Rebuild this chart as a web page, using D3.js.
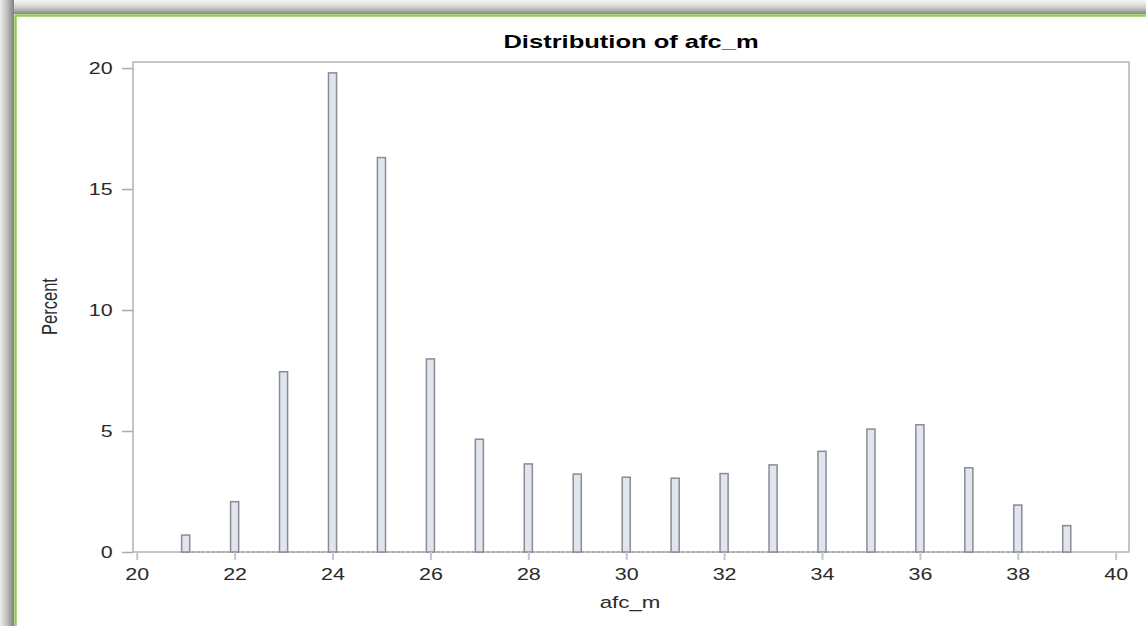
<!DOCTYPE html>
<html>
<head>
<meta charset="utf-8">
<script src="https://cdn.jsdelivr.net/npm/d3@7"></script>
<style>
  html, body { margin: 0; padding: 0; background: #ffffff; }
  svg { display: block; }
  text { font-family: "Liberation Sans", Arial, sans-serif; }
</style>
</head>
<body>
<svg id="chart" width="1146" height="626"></svg>
<script>
// ---- data ----
const categories = [21, 22, 23, 24, 25, 26, 27, 28, 29, 30, 31, 32, 33, 34, 35, 36, 37, 38, 39];
const percent    = [0.70, 2.08, 7.45, 19.80, 16.30, 7.98, 4.66, 3.64, 3.22, 3.09, 3.05, 3.24, 3.60, 4.16, 5.08, 5.26, 3.48, 1.94, 1.09];
const xTicks = [20, 22, 24, 26, 28, 30, 32, 34, 36, 38, 40];
const yTicks = [0, 5, 10, 15, 20];
const titleText = "Distribution of afc_m";
const xLabel = "afc_m";
const yLabel = "Percent";

// ---- layout ----
const W = 1146, H = 626;
const plot = { left: 133, right: 1129, top: 62, bottom: 552 };
const SX = 1.3;            // horizontal stretch of text, as in the reference image
const barW = 0.165;        // bar width in data units

const svg = d3.select("#chart");

// ---- frame / shadow background ----
const defs = svg.append("defs");
const gTop = defs.append("linearGradient").attr("id", "shTop").attr("x1", 0).attr("y1", 0).attr("x2", 0).attr("y2", 1);
gTop.append("stop").attr("offset", "0%").attr("stop-color", "#f6f6f6");
gTop.append("stop").attr("offset", "45%").attr("stop-color", "#d8d8d8");
gTop.append("stop").attr("offset", "100%").attr("stop-color", "#888888");
const gLeft = defs.append("linearGradient").attr("id", "shLeft").attr("x1", 0).attr("y1", 0).attr("x2", 1).attr("y2", 0);
gLeft.append("stop").attr("offset", "0%").attr("stop-color", "#eeeeee");
gLeft.append("stop").attr("offset", "45%").attr("stop-color", "#c4c4c4");
gLeft.append("stop").attr("offset", "100%").attr("stop-color", "#808080");

svg.append("rect").attr("x", 0).attr("y", 0).attr("width", W).attr("height", 14).attr("fill", "url(#shTop)");
svg.append("rect").attr("x", 0).attr("y", 0).attr("width", 14).attr("height", H).attr("fill", "url(#shLeft)");
svg.append("rect").attr("x", 14).attr("y", 14).attr("width", W - 14).attr("height", H - 14).attr("fill", "#ffffff");
svg.append("line").attr("x1", 15).attr("x2", W).attr("y1", 15.5).attr("y2", 15.5).attr("stroke", "#8fcf4f").attr("stroke-width", 2.5);
svg.append("line").attr("x1", 15.5).attr("x2", 15.5).attr("y1", 15).attr("y2", H).attr("stroke", "#8fcf4f").attr("stroke-width", 2.5);

// ---- scales ----
const x = d3.scaleLinear().domain([19.924, 40.272]).range([plot.left, plot.right]);
const y = d3.scaleLinear().domain([0, 20.25]).range([plot.bottom, plot.top]);

// ---- plot frame ----
svg.append("rect")
  .attr("x", plot.left).attr("y", plot.top)
  .attr("width", plot.right - plot.left).attr("height", plot.bottom - plot.top)
  .attr("fill", "none").attr("stroke", "#b0b4b8").attr("stroke-width", 1.5);

// empty-bin baseline (dashed outlines)
svg.append("line")
  .attr("x1", x(categories[0] - barW / 2)).attr("x2", x(categories[categories.length - 1] + barW / 2))
  .attr("y1", y(0)).attr("y2", y(0))
  .attr("stroke", "#8e8e8e").attr("stroke-width", 1).attr("stroke-dasharray", "3,2");

// ---- bars ----
svg.append("g").selectAll("rect")
  .data(categories.map((c, i) => ({ c, v: percent[i] })))
  .join("rect")
  .attr("x", d => x(d.c - barW / 2))
  .attr("width", d => x(d.c + barW / 2) - x(d.c - barW / 2))
  .attr("y", d => y(d.v))
  .attr("height", d => y(0) - y(d.v))
  .attr("fill", "#e0e5f0")
  .attr("stroke", "#8a8c90")
  .attr("stroke-width", 1.5);

// ---- axes ----
const xAxis = svg.append("g")
  .attr("transform", `translate(0,${plot.bottom})`)
  .call(d3.axisBottom(x).tickValues(xTicks).tickSize(8).tickFormat(d3.format("d")));
xAxis.select(".domain").remove();
xAxis.selectAll(".tick line").attr("stroke", "#c4c7ca").attr("stroke-width", 2);
xAxis.selectAll(".tick text")
  .attr("y", 28.5).attr("dy", 0)
  .attr("transform", `scale(${SX},1)`)
  .attr("font-size", 16.5).attr("fill", "#2a2a2a")
  .attr("font-family", "Liberation Sans, Arial, sans-serif");

const yAxis = svg.append("g")
  .attr("transform", `translate(${plot.left},0)`)
  .call(d3.axisLeft(y).tickValues(yTicks).tickSize(11).tickFormat(d3.format("d")));
yAxis.select(".domain").remove();
yAxis.selectAll(".tick line").attr("stroke", "#a8acb0").attr("stroke-width", 1.5);
yAxis.selectAll(".tick text")
  .attr("x", -20.3 / SX).attr("dy", "0.36em")
  .attr("transform", `scale(${SX},1)`)
  .attr("font-size", 16.5).attr("fill", "#2a2a2a")
  .attr("font-family", "Liberation Sans, Arial, sans-serif");

// ---- titles ----
const cx = (plot.left + plot.right) / 2;
svg.append("text")
  .attr("transform", `translate(${cx},48) scale(1.38,1)`)
  .attr("text-anchor", "middle")
  .attr("font-size", 18.5).attr("font-weight", "bold").attr("fill", "#000")
  .text(titleText);

svg.append("text")
  .attr("transform", `translate(${cx - 1},608) scale(${SX + 0.05},1)`)
  .attr("text-anchor", "middle")
  .attr("font-size", 16.5).attr("fill", "#2a2a2a")
  .text(xLabel);

svg.append("text")
  .attr("transform", `translate(57,306.5) scale(${SX},1) rotate(-90)`)
  .attr("text-anchor", "middle")
  .attr("font-size", 16.5).attr("fill", "#2a2a2a")
  .text(yLabel);
</script>
</body>
</html>
